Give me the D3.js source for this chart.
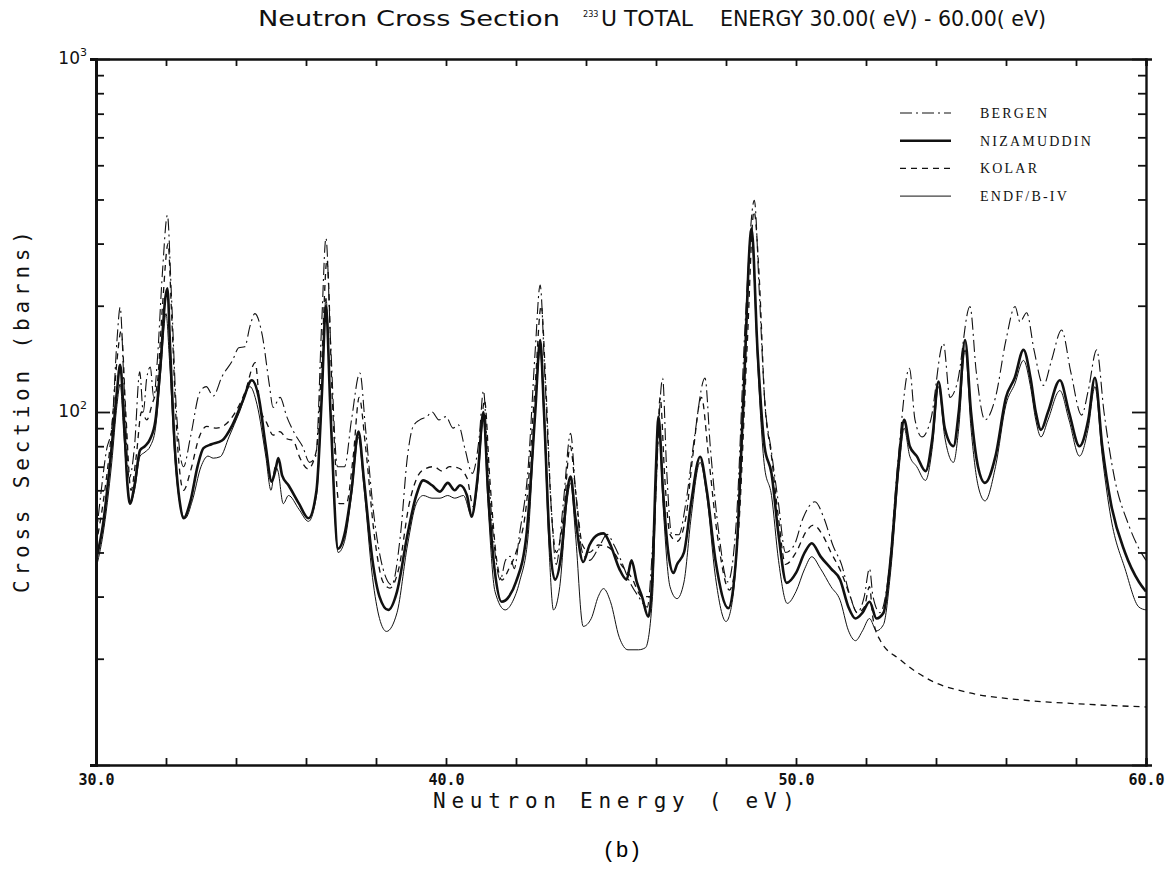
<!DOCTYPE html>
<html>
<head>
<meta charset="utf-8">
<script src="https://cdn.jsdelivr.net/npm/d3@7"></script>
<style>
  body { margin: 0; background: #fff; }
  svg { display: block; background: #fff; }
  .lbl { font-family: "DejaVu Sans", sans-serif; fill: #111; }
  .plot { font-family: "DejaVu Sans Mono", monospace; fill: #111; }
  .ttl { font-family: "DejaVu Sans Condensed", "DejaVu Sans", sans-serif; fill: #111; }
  .tickl { font-family: "DejaVu Sans Mono", monospace; font-weight: bold; font-size: 15px; fill: #111; }
  .leg { font-family: "Liberation Serif", "DejaVu Serif", serif; font-size: 14px; fill: #111; letter-spacing: 2.2px; }
</style>
</head>
<body>
<div id="chart"></div>
<script>
// Axis ranges and labels.
var xDomain = [30, 60];
var yDomain = [10, 1000];
var xLabelTicks = [30, 40, 50, 60];
var xMinorStep = 2;
var yLabelTicks = [100, 1000];

// Legend names, in drawing order.
var seriesNames = ['BERGEN', 'NIZAMUDDIN', 'KOLAR', 'ENDF/B-IV'];

// Curves: [energy (eV), cross section (barns)].
var bergen = [
  [30.0, 44], [30.15, 60], [30.3, 78], [30.45, 90], [30.6, 160], [30.69, 198], [30.8, 120],
  [30.95, 65], [31.1, 80], [31.25, 130], [31.35, 100], [31.45, 125], [31.55, 134], [31.65, 110],
  [31.75, 139], [31.9, 250], [32.04, 361], [32.15, 220], [32.3, 100], [32.5, 70], [32.7, 85],
  [32.97, 114], [33.15, 118], [33.35, 111], [33.6, 126], [33.9, 140], [34.08, 152], [34.25, 153],
  [34.4, 175], [34.54, 190], [34.75, 165], [34.95, 120], [35.06, 103], [35.26, 110], [35.45, 97],
  [35.7, 86], [35.9, 80], [36.1, 72], [36.28, 75], [36.45, 180], [36.57, 311], [36.7, 160],
  [36.9, 70], [37.1, 70], [37.3, 95], [37.54, 129], [37.7, 90], [37.95, 50], [38.2, 36],
  [38.45, 32.4], [38.7, 45], [38.9, 75], [39.06, 91], [39.25, 95], [39.45, 97], [39.6, 100],
  [39.8, 95], [40.0, 97], [40.2, 90], [40.35, 92], [40.55, 78], [40.75, 67], [40.95, 85],
  [41.07, 115], [41.2, 70], [41.4, 40], [41.55, 33.4], [41.7, 38], [41.83, 39], [41.95, 36],
  [42.1, 45], [42.35, 70], [42.55, 150], [42.69, 229], [42.82, 130], [43.0, 55], [43.15, 37],
  [43.35, 55], [43.56, 87], [43.7, 60], [43.9, 40], [44.1, 38], [44.4, 42], [44.6, 45],
  [44.8, 42], [45.0, 38], [45.25, 33], [45.5, 30], [45.75, 28], [45.95, 50], [46.19, 124.5],
  [46.3, 70], [46.45, 45], [46.65, 44.9], [46.85, 55], [47.1, 85], [47.4, 124.8], [47.55, 80],
  [47.8, 45], [48.05, 33], [48.3, 50], [48.55, 180], [48.81, 398], [48.95, 220], [49.1, 110],
  [49.3, 77], [49.5, 55], [49.7, 40], [49.95, 42], [50.2, 50], [50.54, 55.7], [50.8, 50],
  [51.05, 42], [51.3, 37], [51.55, 30], [51.75, 27], [51.95, 30], [52.1, 36], [52.2, 30],
  [52.4, 27], [52.65, 35], [52.9, 70], [53.24, 133], [53.4, 95], [53.6, 85], [53.85, 95],
  [54.21, 156.5], [54.4, 110], [54.6, 120], [54.97, 199], [55.15, 130], [55.4, 95], [55.7, 110],
  [56.0, 160], [56.26, 199], [56.4, 180], [56.59, 191], [56.8, 150], [57.07, 119], [57.3, 140],
  [57.59, 170.7], [57.85, 130], [58.16, 98], [58.35, 115], [58.59, 150], [58.8, 100], [59.1, 65],
  [59.5, 48], [59.8, 41], [60.0, 38]
];

var nizamuddin = [
  [30.0, 38], [30.2, 48], [30.45, 80], [30.6, 115], [30.69, 136], [30.8, 95], [30.9, 62],
  [30.97, 55], [31.1, 62], [31.26, 78], [31.4, 80], [31.55, 84], [31.7, 95], [31.85, 140],
  [31.98, 210], [32.04, 224], [32.12, 150], [32.25, 80], [32.4, 55], [32.5, 50], [32.7, 56],
  [32.9, 70], [33.07, 79], [33.3, 81], [33.6, 83], [33.9, 92], [34.2, 108], [34.45, 123],
  [34.65, 110], [34.85, 80], [35.02, 63.5], [35.12, 68], [35.21, 74], [35.32, 66], [35.5, 62],
  [35.8, 55], [36.07, 50], [36.3, 60], [36.45, 110], [36.57, 200], [36.7, 100], [36.92, 41],
  [37.1, 45], [37.3, 60], [37.5, 88], [37.65, 65], [37.9, 38], [38.1, 30], [38.35, 27.5],
  [38.6, 31], [38.9, 45], [39.15, 58], [39.35, 64], [39.6, 62], [39.83, 59.5], [40.05, 63],
  [40.25, 60], [40.4, 62], [40.6, 58], [40.73, 50.5], [40.9, 65], [41.07, 100], [41.2, 60],
  [41.4, 35], [41.59, 29], [41.8, 30], [42.0, 33], [42.3, 45], [42.55, 100], [42.69, 160],
  [42.8, 100], [42.95, 45], [43.11, 33.5], [43.3, 40], [43.45, 58], [43.56, 65.6], [43.7, 50],
  [43.92, 37.6], [44.1, 42], [44.35, 45], [44.5, 45.3], [44.7, 42], [44.95, 36], [45.16, 33.5],
  [45.3, 38], [45.45, 33], [45.6, 30], [45.78, 26.3], [45.9, 35], [46.0, 70], [46.07, 97],
  [46.2, 60], [46.35, 40], [46.5, 35], [46.6, 37], [46.8, 40], [47.0, 55], [47.26, 74.7],
  [47.45, 60], [47.7, 38], [48.07, 27.8], [48.3, 40], [48.5, 110], [48.73, 331], [48.9, 150],
  [49.1, 80], [49.3, 67], [49.5, 45], [49.73, 32.8], [50.0, 35], [50.25, 40], [50.45, 42.5],
  [50.7, 39], [51.0, 36], [51.26, 33.5], [51.5, 28], [51.7, 26], [51.9, 27], [52.1, 29],
  [52.3, 26], [52.5, 27], [52.7, 38], [52.95, 75], [53.09, 95], [53.25, 80], [53.45, 75],
  [53.7, 68], [53.9, 85], [54.07, 122], [54.25, 90], [54.5, 80], [54.65, 100], [54.83, 160],
  [55.0, 100], [55.2, 70], [55.4, 63], [55.7, 75], [56.0, 110], [56.25, 125], [56.5, 150],
  [56.7, 125], [56.85, 100], [57.0, 89], [57.2, 100], [57.54, 123], [57.8, 100], [58.1, 80],
  [58.35, 95], [58.54, 125], [58.75, 80], [59.0, 55], [59.4, 40], [59.8, 33], [60.0, 31]
];

var kolar = [
  [30.0, 42], [30.2, 55], [30.45, 90], [30.6, 140], [30.72, 170], [30.85, 100], [31.0, 60],
  [31.15, 75], [31.3, 100], [31.45, 95], [31.6, 105], [31.75, 120], [31.9, 200], [32.06, 300],
  [32.15, 200], [32.3, 90], [32.5, 60], [32.7, 68], [32.95, 85], [33.16, 91], [33.45, 90],
  [33.9, 97], [34.26, 114], [34.55, 138], [34.69, 103], [34.88, 93], [35.06, 86], [35.25, 88],
  [35.45, 84], [35.63, 83], [35.83, 74], [36.06, 69], [36.3, 78], [36.45, 140], [36.6, 270],
  [36.75, 110], [36.95, 55], [37.15, 55], [37.35, 75], [37.52, 110], [37.7, 80], [37.95, 45],
  [38.2, 33], [38.4, 31.7], [38.65, 36], [38.95, 55], [39.2, 66], [39.4, 69], [39.65, 70],
  [39.9, 68], [40.1, 70], [40.35, 69.4], [40.6, 65], [40.78, 54], [40.95, 75], [41.1, 108],
  [41.25, 65], [41.45, 38], [41.6, 33.4], [41.8, 36], [42.0, 40], [42.3, 55], [42.55, 120],
  [42.72, 200], [42.85, 120], [43.0, 55], [43.15, 40], [43.35, 50], [43.55, 80], [43.7, 60],
  [43.9, 42], [44.1, 40], [44.35, 42], [44.6, 41.6], [44.8, 40], [45.0, 37], [45.3, 34],
  [45.6, 30], [45.85, 30], [46.0, 60], [46.12, 110], [46.25, 65], [46.4, 45], [46.6, 43],
  [46.85, 50], [47.05, 75], [47.3, 110], [47.5, 75], [47.75, 45], [48.1, 31.3], [48.35, 45],
  [48.6, 150], [48.8, 370], [48.95, 240], [49.1, 110], [49.3, 75], [49.5, 50], [49.7, 37],
  [50.0, 40], [50.3, 46], [50.5, 47.8], [50.75, 45], [51.0, 40], [51.3, 35], [51.55, 30],
  [51.75, 27], [51.95, 28], [52.1, 32], [52.2, 26], [52.4, 22.6], [52.97, 19.9], [53.83, 17.4],
  [54.97, 16.0], [56.4, 15.3], [58.1, 14.9], [60.0, 14.6]
];

var endf = [
  [30.0, 36], [30.2, 45], [30.45, 72], [30.6, 105], [30.69, 120], [30.8, 85], [30.97, 55],
  [31.1, 60], [31.26, 75], [31.4, 77], [31.55, 80], [31.7, 90], [31.85, 130], [32.0, 190],
  [32.1, 140], [32.25, 75], [32.45, 52], [32.55, 50], [32.75, 56], [33.0, 70], [33.2, 75],
  [33.35, 74], [33.55, 74.7], [33.8, 85], [34.1, 100], [34.4, 118], [34.6, 105], [34.85, 75],
  [35.0, 60], [35.12, 70], [35.2, 68], [35.35, 55], [35.5, 58], [35.8, 53], [36.07, 49],
  [36.3, 58], [36.45, 110], [36.57, 210], [36.7, 100], [36.92, 40], [37.1, 43], [37.3, 58],
  [37.5, 85], [37.65, 62], [37.9, 34], [38.1, 26], [38.3, 23.9], [38.6, 27], [38.9, 42],
  [39.15, 55], [39.35, 58], [39.6, 57], [39.83, 57], [40.05, 58], [40.25, 57], [40.5, 58],
  [40.73, 51], [40.9, 62], [41.07, 95], [41.2, 55], [41.4, 31], [41.69, 27.5], [41.9, 29],
  [42.1, 33], [42.35, 45], [42.55, 100], [42.69, 150], [42.8, 95], [42.95, 40], [43.07, 27.5],
  [43.25, 32], [43.45, 55], [43.56, 63], [43.7, 45], [43.92, 24.7], [44.15, 26], [44.35, 30],
  [44.5, 31.6], [44.7, 29], [44.95, 23], [45.2, 21.2], [45.5, 21.2], [45.7, 21.5], [45.9, 30],
  [46.0, 60], [46.07, 95], [46.2, 55], [46.4, 32], [46.6, 29.6], [46.8, 33], [47.0, 50],
  [47.26, 72], [47.45, 58], [47.7, 34], [48.0, 25.5], [48.2, 30], [48.5, 100], [48.73, 320],
  [48.9, 140], [49.1, 70], [49.3, 58], [49.5, 38], [49.75, 28.7], [50.0, 31], [50.25, 36],
  [50.45, 38.9], [50.7, 36], [51.0, 32], [51.26, 29.3], [51.5, 24], [51.7, 22.5], [51.9, 24],
  [52.1, 26], [52.3, 24], [52.5, 25], [52.7, 35], [52.95, 70], [53.09, 90], [53.25, 75],
  [53.45, 70], [53.7, 64], [53.9, 80], [54.07, 118], [54.25, 85], [54.5, 72], [54.65, 90],
  [54.83, 150], [55.0, 90], [55.2, 62], [55.4, 56], [55.7, 70], [56.0, 105], [56.25, 120],
  [56.5, 140], [56.7, 118], [56.85, 95], [57.0, 85], [57.2, 95], [57.54, 115], [57.8, 95],
  [58.1, 75], [58.35, 90], [58.54, 118], [58.75, 75], [59.0, 50], [59.4, 36], [59.8, 28],
  [60.0, 27.5]
];

// Line styles, one per series (same order as seriesNames).
var seriesData = [bergen, nizamuddin, kolar, endf];
var strokeW = [1.1, 2.6, 1.3, 1.0];
var dashes = ['12,4,2,4', null, '6,5', null];

// Set the dimensions of the graph.
var width = 1167, height = 883;
var margin = {top: 59, right: 21, bottom: 118, left: 96};

var svg = d3.select('#chart').append('svg')
    .attr('width', width)
    .attr('height', height);

var x = d3.scaleLinear().domain(xDomain).range([margin.left, width - margin.right]);
var y = d3.scaleLog().domain(yDomain).range([height - margin.bottom, margin.top]);

var isMajor = function (d) { return Math.abs(Math.log10(d) - Math.round(Math.log10(d))) < 1e-9; };

// Clip the curves to the frame.
svg.append('clipPath').attr('id', 'plotclip')
  .append('rect')
    .attr('x', x(xDomain[0])).attr('y', y(yDomain[1]))
    .attr('width', x(xDomain[1]) - x(xDomain[0]))
    .attr('height', y(yDomain[0]) - y(yDomain[1]));

// Curves.
var line = d3.line()
    .x(function (d) { return x(d[0]); })
    .y(function (d) { return y(d[1]); })
    .curve(d3.curveMonotoneX);

svg.append('g').attr('clip-path', 'url(#plotclip)')
  .selectAll('path')
  .data(seriesData)
  .enter()
  .append('path')
    .attr('d', line)
    .attr('fill', 'none')
    .attr('stroke', '#111')
    .attr('stroke-linejoin', 'round')
    .attr('stroke-width', function (d, i) { return strokeW[i]; })
    .attr('stroke-dasharray', function (d, i) { return dashes[i]; });

// X ticks every 2 eV, inward, bottom and top.
var xMinor = d3.range(xDomain[0], xDomain[1] + 0.001, xMinorStep);
var gxb = svg.append('g')
    .attr('transform', 'translate(0,' + y(yDomain[0]) + ')')
    .call(d3.axisBottom(x).tickValues(xMinor).tickSize(-7).tickFormat(''));
var gxt = svg.append('g')
    .attr('transform', 'translate(0,' + y(yDomain[1]) + ')')
    .call(d3.axisTop(x).tickValues(xMinor).tickSize(-7).tickFormat(''));
// X tick labels.
svg.append('g')
    .attr('transform', 'translate(0,' + y(yDomain[0]) + ')')
    .call(d3.axisBottom(x).tickValues(xLabelTicks).tickSize(0).tickPadding(9).tickFormat(d3.format('.1f')))
    .call(function (g) { g.select('.domain').remove(); })
    .selectAll('text').attr('class', 'tickl').attr('font-size', null).attr('font-family', null);

// Y log ticks on both sides, inward.
var gyl = svg.append('g')
    .attr('transform', 'translate(' + x(xDomain[0]) + ',0)')
    .call(d3.axisLeft(y).tickValues(y.ticks()).tickFormat(''));
gyl.selectAll('.tick line').attr('x2', function (d) { return isMajor(d) ? 14 : 8; });
var gyr = svg.append('g')
    .attr('transform', 'translate(' + x(xDomain[1]) + ',0)')
    .call(d3.axisRight(y).tickValues(y.ticks()).tickFormat(''));
gyr.selectAll('.tick line').attr('x2', function (d) { return isMajor(d) ? -14 : -8; });

[gxb, gxt, gyl, gyr].forEach(function (g) {
  g.select('.domain').attr('stroke', '#111').attr('stroke-width', 2.4);
  g.selectAll('.tick line').attr('stroke', '#111').attr('stroke-width', 1.8);
});
gyl.select('.domain').attr('stroke-width', 3);

// Y labels 10^2, 10^3.
var ylab = svg.append('g').selectAll('text')
    .data(yLabelTicks)
    .enter()
    .append('text')
    .attr('class', 'lbl')
    .attr('font-size', 17)
    .attr('text-anchor', 'end')
    .attr('x', x(xDomain[0]) - 9)
    .attr('y', function (d) { return y(d) + 5; });
ylab.append('tspan').text('10');
ylab.append('tspan').attr('font-size', 11).attr('dy', -8)
    .text(function (d) { return d === 100 ? '2' : '3'; });

// Title (plotter lettering, fitted to the original widths).
var titleParts = [
  {t: 'Neutron Cross Section', x: 258, w: 302},
  {t: 'U TOTAL', x: 601, w: 92},
  {t: 'ENERGY 30.00( eV) - 60.00( eV)', x: 720, w: 326}
];
svg.append('g').selectAll('text')
    .data(titleParts)
    .enter()
    .append('text')
    .attr('class', 'ttl')
    .attr('font-size', 21)
    .attr('x', function (d) { return d.x; })
    .attr('y', 26)
    .attr('textLength', function (d) { return d.w; })
    .attr('lengthAdjust', 'spacingAndGlyphs')
    .text(function (d) { return d.t; });
svg.append('text').attr('class', 'ttl')
    .attr('font-size', 9).attr('x', 583).attr('y', 17)
    .text('233');

// Axis titles.
svg.append('text').attr('class', 'plot')
    .attr('font-size', 21)
    .attr('text-anchor', 'middle')
    .attr('transform', 'translate(29,' + ((y(yDomain[0]) + y(yDomain[1])) / 2) + ') rotate(-90)')
    .attr('textLength', 362)
    .text('Cross Section (barns)');
svg.append('text').attr('class', 'plot')
    .attr('font-size', 21)
    .attr('text-anchor', 'middle')
    .attr('x', 614).attr('y', 808)
    .attr('textLength', 362)
    .text('Neutron Energy ( eV)');
svg.append('text')
    .attr('font-family', 'Liberation Mono, monospace')
    .attr('font-size', 22)
    .attr('text-anchor', 'middle')
    .attr('x', 622).attr('y', 857)
    .text('(b)');

// Legend.
var legend = svg.append('g').selectAll('g')
    .data(seriesNames)
    .enter()
    .append('g')
    .attr('transform', function (d, i) { return 'translate(900,' + (113 + i * 27.7) + ')'; });
legend.append('line')
    .attr('x1', 0).attr('x2', 51).attr('y1', 0).attr('y2', 0)
    .attr('stroke', '#111')
    .attr('stroke-width', function (d, i) { return strokeW[i]; })
    .attr('stroke-dasharray', function (d, i) { return dashes[i]; });
legend.append('text')
    .attr('class', 'leg')
    .attr('x', 80).attr('y', 5)
    .text(function (d) { return d; });
</script>
</body>
</html>
